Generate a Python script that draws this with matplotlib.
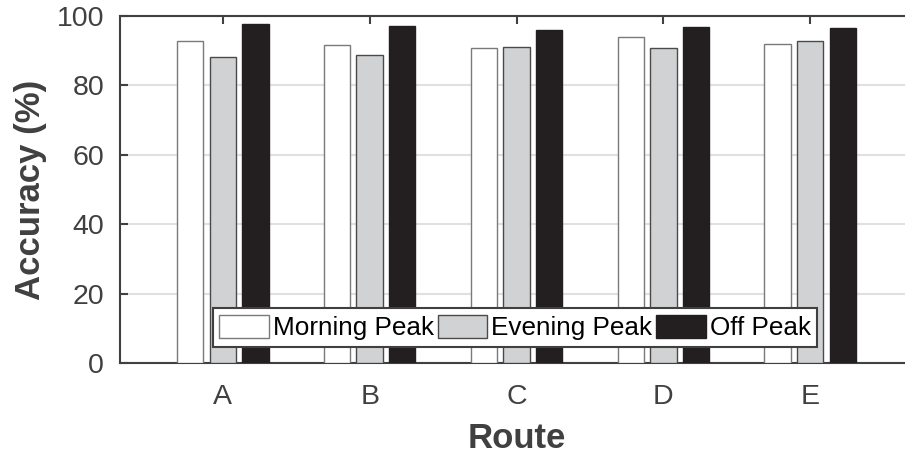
import numpy as np
import matplotlib
matplotlib.use('Agg')
import matplotlib.pyplot as plt

# Data
routes = ['A', 'B', 'C', 'D', 'E']
morning_peak = [92.9, 91.6, 90.9, 93.9, 91.9]
evening_peak = [88.2, 88.8, 91.0, 90.9, 92.9]
off_peak = [97.6, 97.2, 96.0, 96.9, 96.4]
series_names = ['Morning Peak', 'Evening Peak', 'Off Peak']

plt.rcParams['font.family'] = ['Liberation Sans', 'DejaVu Sans']
axis_col = '#404040'

fig = plt.figure(figsize=(9.05, 4.59), dpi=100)
# axes run a little past the right edge of the picture, like the reference
ax = fig.add_axes([120 / 905, 96 / 459, 793 / 905, 347 / 459])

x = np.arange(1, len(routes) + 1)
offset = 0.222
width = 0.18

ax.bar(x - offset, morning_peak, width, color='white', edgecolor='#7a7a7a',
       linewidth=1.0, label=series_names[0], zorder=3)
ax.bar(x, evening_peak, width, color='#d1d2d4', edgecolor='#4a4a4a',
       linewidth=1.0, label=series_names[1], zorder=3)
ax.bar(x + offset, off_peak, width, color='#231f20', edgecolor='#231f20',
       linewidth=1.0, label=series_names[2], zorder=3)

ax.set_xlim(0.3, 5.7)
ax.set_ylim(0, 100)
ax.set_xticks(x)
ax.set_xticklabels(routes)
ax.set_yticks([0, 20, 40, 60, 80, 100])

ax.yaxis.grid(True, color='#e0e0e0', linewidth=1.5, zorder=0)
ax.set_axisbelow(True)

for side in ['left', 'bottom', 'top', 'right']:
    ax.spines[side].set_color(axis_col)
    ax.spines[side].set_linewidth(1.5)

ax.tick_params(axis='both', direction='in', length=6, width=1.5,
               colors=axis_col, labelsize=20.5, top=True)
ax.tick_params(axis='y', pad=11.5)
ax.tick_params(axis='x', pad=15)

ax.set_ylabel('Accuracy (%)', fontsize=25, fontweight='bold', color=axis_col,
              labelpad=7)
ax.set_xlabel('Route', fontsize=25, fontweight='bold', color=axis_col,
              labelpad=9)

leg = ax.legend(loc='lower left', bbox_to_anchor=(212.7 / 905, (459 - 347) / 459),
                bbox_transform=fig.transFigure, ncol=3, fontsize=18.8,
                frameon=True, fancybox=False, borderaxespad=0,
                handlelength=1.9, handleheight=1.0, handletextpad=0.15,
                columnspacing=0.15, borderpad=0.25)
leg.get_frame().set_edgecolor(axis_col)
leg.get_frame().set_linewidth(1.5)
leg.get_frame().set_alpha(1)

fig.savefig('out.png', dpi=100)
